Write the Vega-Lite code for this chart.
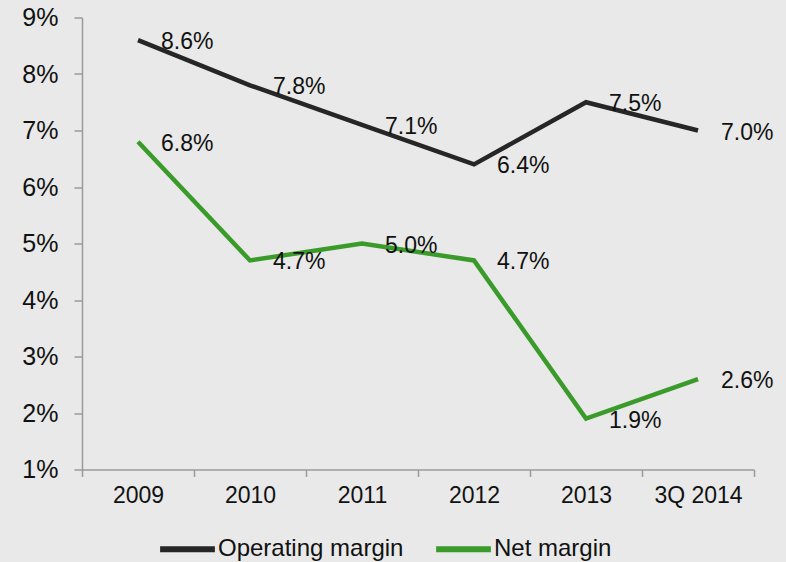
{
  "$schema": "https://vega.github.io/schema/vega-lite/v6.json",
  "width": 672,
  "height": 452,
  "autosize": "none",
  "padding": {"left": 82, "top": 17.5, "right": 32, "bottom": 92.5},
  "background": "#e8e9e8",
  "config": {
    "view": {"stroke": null},
    "font": "Liberation Sans",
    "axis": {"grid": false, "domainColor": "#9a9a9a", "tickColor": "#9a9a9a", "domainWidth": 1.5, "tickWidth": 1.5, "labelColor": "#111111", "labelFont": "Liberation Sans"}
  },
  "data": {
    "values": [
      {"year": "2009", "series": "Operating margin", "v": 0.086},
      {"year": "2010", "series": "Operating margin", "v": 0.078},
      {"year": "2011", "series": "Operating margin", "v": 0.071},
      {"year": "2012", "series": "Operating margin", "v": 0.064},
      {"year": "2013", "series": "Operating margin", "v": 0.075},
      {"year": "3Q 2014", "series": "Operating margin", "v": 0.070},
      {"year": "2009", "series": "Net margin", "v": 0.068},
      {"year": "2010", "series": "Net margin", "v": 0.047},
      {"year": "2011", "series": "Net margin", "v": 0.050},
      {"year": "2012", "series": "Net margin", "v": 0.047},
      {"year": "2013", "series": "Net margin", "v": 0.019},
      {"year": "3Q 2014", "series": "Net margin", "v": 0.026}
    ]
  },
  "encoding": {
    "x": {
      "field": "year", "type": "nominal", "sort": null,
      "scale": {"type": "band", "paddingInner": 0, "paddingOuter": 0},
      "axis": {"title": null, "labelAngle": 0, "labelFontSize": 23, "tickSize": 7, "labelPadding": 8, "tickBand": "extent"}
    },
    "y": {
      "field": "v", "type": "quantitative",
      "scale": {"domain": [0.01, 0.09], "nice": false, "zero": false},
      "axis": {"title": null, "format": ".0%", "values": [0.01, 0.02, 0.03, 0.04, 0.05, 0.06, 0.07, 0.08, 0.09], "labelFontSize": 25, "tickSize": 8, "labelPadding": 16}
    }
  },
  "layer": [
    {
      "mark": {"type": "line", "strokeWidth": 4.5},
      "encoding": {
        "color": {
          "field": "series", "type": "nominal",
          "scale": {"domain": ["Operating margin", "Net margin"], "range": ["#262626", "#3a9b2b"]},
          "legend": {
            "title": null, "orient": "none", "legendX": 75, "legendY": 501, "direction": "horizontal",
            "symbolType": "stroke", "symbolSize": 3000, "symbolStrokeWidth": 6,
            "labelFontSize": 24, "labelColor": "#111111", "labelOffset": 0, "labelLimit": 400, "columnPadding": 20
          }
        }
      }
    },
    {
      "mark": {"type": "text", "align": "left", "baseline": "middle", "dx": 23, "dy": 2, "fontSize": 23, "color": "#111111"},
      "encoding": {
        "text": {"field": "v", "type": "quantitative", "format": ".1%"}
      }
    }
  ]
}
